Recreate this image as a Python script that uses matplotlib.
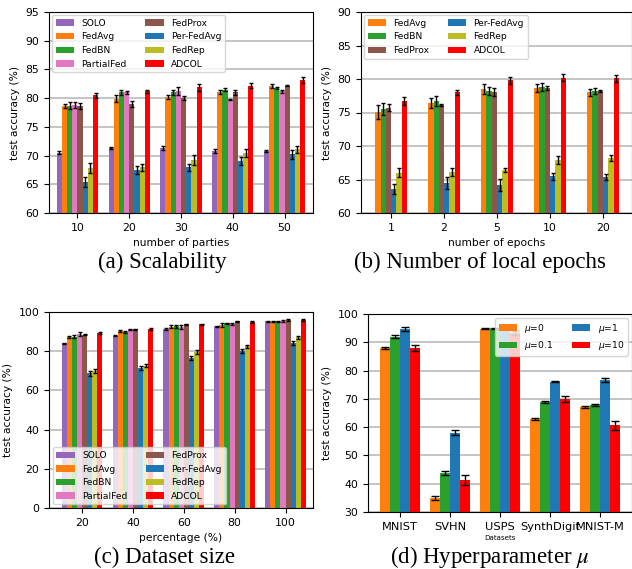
import numpy as np
import matplotlib
matplotlib.use("Agg")
import matplotlib.pyplot as plt

# ── Данные ────────────────────────────────────────────────────────────────────
METHODS8 = ["SOLO", "FedAvg", "FedBN", "PartialFed", "FedProx", "Per-FedAvg", "FedRep", "ADCOL"]
METHODS6 = ["FedAvg", "FedBN", "FedProx", "Per-FedAvg", "FedRep", "ADCOL"]
MU_LABELS = [r"$\mu$=0", r"$\mu$=0.1", r"$\mu$=1", r"$\mu$=10"]

# (a) scalability
parties = ["10", "20", "30", "40", "50"]
acc_parties = {
    "SOLO":       [70.5, 71.3, 71.3, 70.8, 70.8],
    "FedAvg":     [78.6, 79.9, 80.2, 81.1, 82.1],
    "FedBN":      [78.7, 81.0, 81.0, 81.5, 81.8],
    "PartialFed": [78.8, 81.0, 81.2, 79.7, 81.2],
    "FedProx":    [78.6, 79.0, 80.0, 81.0, 82.2],
    "Per-FedAvg": [65.4, 67.5, 68.0, 69.0, 70.2],
    "FedRep":     [67.8, 68.0, 69.2, 70.4, 71.1],
    "ADCOL":      [80.5, 81.2, 81.9, 82.2, 83.1],
}
err_parties = {
    "SOLO":       [0.3, 0.2, 0.4, 0.3, 0.2],
    "FedAvg":     [0.3, 0.6, 0.3, 0.4, 0.3],
    "FedBN":      [0.6, 0.5, 0.5, 0.2, 0.2],
    "PartialFed": [0.5, 0.3, 0.7, 0.1, 0.3],
    "FedProx":    [0.5, 0.5, 0.4, 0.4, 0.1],
    "Per-FedAvg": [0.9, 0.7, 0.6, 0.7, 0.8],
    "FedRep":     [0.9, 0.6, 0.9, 0.7, 0.6],
    "ADCOL":      [0.4, 0.3, 0.6, 0.4, 0.5],
}

# (b) local epochs
epochs = ["1", "2", "5", "10", "20"]
acc_epochs = {
    "FedAvg":     [75.1, 76.4, 78.5, 78.6, 78.0],
    "FedBN":      [75.5, 76.7, 78.2, 78.8, 78.2],
    "FedProx":    [75.7, 76.1, 78.0, 78.6, 78.2],
    "Per-FedAvg": [63.6, 64.5, 64.2, 65.5, 65.4],
    "FedRep":     [66.0, 66.1, 66.4, 67.9, 68.2],
    "ADCOL":      [76.7, 78.0, 79.8, 80.2, 80.1],
}
err_epochs = {
    "FedAvg":     [1.0, 0.8, 0.7, 0.6, 0.5],
    "FedBN":      [0.9, 0.7, 0.6, 0.6, 0.5],
    "FedProx":    [0.5, 0.2, 0.6, 0.3, 0.1],
    "Per-FedAvg": [0.7, 0.9, 0.9, 0.5, 0.4],
    "FedRep":     [0.7, 0.6, 0.3, 0.6, 0.5],
    "ADCOL":      [0.6, 0.4, 0.5, 0.5, 0.5],
}

# (c) dataset size
percent = ["20", "40", "60", "80", "100"]
acc_percent = {
    "SOLO":       [84.0, 88.0, 91.3, 92.7, 95.2],
    "FedAvg":     [87.2, 90.2, 92.5, 93.4, 95.0],
    "FedBN":      [87.5, 89.9, 92.7, 94.2, 95.3],
    "PartialFed": [88.8, 91.0, 92.5, 94.0, 95.4],
    "FedProx":    [88.5, 91.2, 93.8, 95.2, 95.9],
    "Per-FedAvg": [68.8, 71.3, 76.5, 80.1, 84.2],
    "FedRep":     [69.8, 72.5, 79.6, 82.5, 87.2],
    "ADCOL":      [89.3, 91.2, 93.7, 95.0, 95.9],
}
err_percent = {
    "SOLO":       [0.3, 0.2, 0.3, 0.3, 0.2],
    "FedAvg":     [0.5, 0.4, 0.8, 0.8, 0.3],
    "FedBN":      [0.8, 0.5, 0.7, 0.4, 0.2],
    "PartialFed": [0.8, 0.3, 1.0, 0.5, 0.3],
    "FedProx":    [0.4, 0.3, 0.3, 0.4, 0.3],
    "Per-FedAvg": [1.2, 1.0, 0.8, 0.8, 1.0],
    "FedRep":     [1.0, 0.8, 1.0, 0.8, 0.8],
    "ADCOL":      [0.5, 0.5, 0.4, 0.5, 0.4],
}

# (d) hyperparameter mu
datasets = ["MNIST", "SVHN", "USPS", "SynthDigit", "MNIST-M"]
acc_mu = [
    [88.0, 35.0, 94.8, 63.0, 67.2],   # mu=0
    [91.9, 43.8, 94.9, 69.0, 67.9],   # mu=0.1
    [94.7, 58.1, 95.2, 76.1, 76.6],   # mu=1
    [87.9, 41.3, 93.2, 70.0, 60.6],   # mu=10
]
err_mu = [
    [0.5, 0.8, 0.2, 0.4, 0.4],
    [0.5, 0.8, 0.2, 0.3, 0.4],
    [0.6, 1.0, 0.3, 0.3, 0.8],
    [1.0, 1.8, 0.8, 1.0, 1.5],
]

COLORS = {
    "SOLO": "tab:purple", "FedAvg": "tab:orange", "FedBN": "tab:green",
    "PartialFed": "tab:pink", "FedProx": "tab:brown", "Per-FedAvg": "tab:blue",
    "FedRep": "tab:olive", "ADCOL": "red",
}
MU_COLORS = ["tab:orange", "tab:green", "tab:blue", "red"]

TICK_FS = 7.8
LABEL_FS = 7.7
LEG_FS = 6.6


def _grouped(ax, cats, series, errs, labels, colors, width, capsize):
    x = np.arange(len(cats))
    n = len(series)
    for i, (vals, e, lab, c) in enumerate(zip(series, errs, labels, colors)):
        ax.bar(x + (i - (n - 1) / 2) * width, vals, width, yerr=e, color=c,
               label=lab, capsize=capsize,
               error_kw=dict(ecolor="black", elinewidth=1.0, capthick=1.0))
    ax.set_xticks(x)
    ax.set_xticklabels(cats)
    ax.set_axisbelow(True)
    ax.yaxis.grid(True, color="#c4c4c4", linewidth=1.4)
    ax.tick_params(labelsize=TICK_FS)
    ax.set_ylabel("test accuracy (%)", fontsize=LABEL_FS)


fig = plt.figure(figsize=(6.32, 5.69), dpi=100)
W, H = 632, 569


def _axes(l, t, r, b):
    return fig.add_axes([l / W, 1 - b / H, (r - l) / W, (b - t) / H])


# (a) ─────────────────────────────────────────────────────────────────────────
ax = _axes(49, 12, 313, 213)
_grouped(ax, parties, [acc_parties[m] for m in METHODS8], [err_parties[m] for m in METHODS8],
         METHODS8, [COLORS[m] for m in METHODS8], 0.1, 1.2)
ax.set_ylim(60, 95)
ax.set_xlim(-0.55, 4.55)
ax.set_xlabel("number of parties", fontsize=LABEL_FS)
ax.legend(ncol=2, loc="upper left", fontsize=LEG_FS, borderaxespad=0.35)

# (b) ─────────────────────────────────────────────────────────────────────────
ax = _axes(361, 12, 631.5, 213)
_grouped(ax, epochs, [acc_epochs[m] for m in METHODS6], [err_epochs[m] for m in METHODS6],
         METHODS6, [COLORS[m] for m in METHODS6], 0.1, 1.2)
ax.set_ylim(60, 90)
ax.set_xlim(-0.57, 4.54)
ax.set_xlabel("number of epochs", fontsize=LABEL_FS)
ax.legend(ncol=2, loc="upper left", fontsize=LEG_FS, borderaxespad=0.35)

# (c) ─────────────────────────────────────────────────────────────────────────
ax = _axes(49, 312, 313, 508)
_grouped(ax, percent, [acc_percent[m] for m in METHODS8], [err_percent[m] for m in METHODS8],
         METHODS8, [COLORS[m] for m in METHODS8], 0.1, 1.2)
ax.set_ylim(0, 100)
ax.set_xlim(-0.65, 4.54)
ax.set_xlabel("percentage (%)", fontsize=LABEL_FS)
ax.legend(ncol=2, loc="lower left", fontsize=LEG_FS, borderaxespad=0.4)

# (d) ─────────────────────────────────────────────────────────────────────────
ax = _axes(368, 314, 632, 512)
_grouped(ax, datasets, acc_mu, err_mu, MU_LABELS, MU_COLORS, 0.2, 3)
ax.set_ylim(30, 100)
ax.set_xlim(-0.64, 4.64)
ax.tick_params(axis="x", labelsize=8.2)
ax.set_xlabel("Datasets", fontsize=5.1, labelpad=2)
ax.legend(ncol=2, loc="upper right", fontsize=LEG_FS, borderaxespad=0.45)

# подписи подграфиков
cap = dict(family="Liberation Serif", fontsize=16.5, ha="center", va="center")
fig.text(162 / W, 1 - 262 / H, "(a) Scalability", **cap)
fig.text(480 / W, 1 - 262 / H, "(b) Number of local epochs", **cap)
fig.text(165 / W, 1 - 557 / H, "(c) Dataset size", **cap)
fig.text(490 / W, 1 - 557 / H, r"(d) Hyperparameter $\mu$", math_fontfamily="stix", **cap)

fig.savefig("out.png", dpi=100)
